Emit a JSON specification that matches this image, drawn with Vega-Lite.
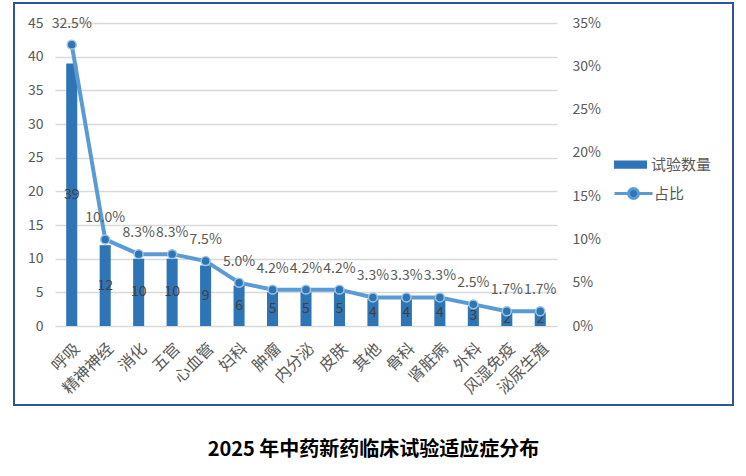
{
  "$schema": "https://vega.github.io/schema/vega-lite/v6.json",
  "width": 719,
  "height": 402,
  "autosize": "none",
  "padding": {"left": 14, "top": 3, "right": 13, "bottom": 71},
  "background": "white",
  "config": {
    "font": "Noto Sans CJK SC",
    "view": {"stroke": "#2F5597", "strokeWidth": 2}
  },
  "title": {
    "text": "2025 年中药新药临床试验适应症分布",
    "orient": "bottom",
    "anchor": "middle",
    "frame": "group",
    "offset": 35,
    "fontSize": 20,
    "fontWeight": "bold",
    "color": "#000000"
  },
  "data": {
    "values": [
      {"类别": "呼吸", "试验数量": 39, "占比": 0.325},
      {"类别": "精神神经", "试验数量": 12, "占比": 0.100},
      {"类别": "消化", "试验数量": 10, "占比": 0.083},
      {"类别": "五官", "试验数量": 10, "占比": 0.083},
      {"类别": "心血管", "试验数量": 9, "占比": 0.075},
      {"类别": "妇科", "试验数量": 6, "占比": 0.050},
      {"类别": "肿瘤", "试验数量": 5, "占比": 0.042},
      {"类别": "内分泌", "试验数量": 5, "占比": 0.042},
      {"类别": "皮肤", "试验数量": 5, "占比": 0.042},
      {"类别": "其他", "试验数量": 4, "占比": 0.033},
      {"类别": "骨科", "试验数量": 4, "占比": 0.033},
      {"类别": "肾脏病", "试验数量": 4, "占比": 0.033},
      {"类别": "外科", "试验数量": 3, "占比": 0.025},
      {"类别": "风湿免疫", "试验数量": 2, "占比": 0.017},
      {"类别": "泌尿生殖", "试验数量": 2, "占比": 0.017}
    ]
  },
  "encoding": {
    "x": {
      "field": "类别",
      "type": "nominal",
      "sort": null,
      "scale": {"range": [41, 543], "paddingInner": 0, "paddingOuter": 0},
      "axis": {
        "title": null,
        "labelAngle": -45,
        "labelFontSize": 16,
        "labelColor": "#595959",
        "ticks": false,
        "domain": false,
        "grid": false,
        "offset": -79,
        "labelPadding": 14
      }
    }
  },
  "layer": [
    {
      "mark": {"type": "bar", "width": {"band": 0.33}},
      "encoding": {
        "y": {
          "field": "试验数量",
          "type": "quantitative",
          "scale": {"domain": [0, 45], "range": [323, 20], "nice": false},
          "axis": {
            "title": null,
            "orient": "left",
            "offset": -41,
            "values": [0, 5, 10, 15, 20, 25, 30, 35, 40, 45],
            "grid": true,
            "gridColor": "#D9D9D9",
            "gridWidth": 1.3,
            "domain": false,
            "ticks": false,
            "labelPadding": 12,
            "labelFontSize": 14,
            "labelColor": "#595959"
          }
        },
        "color": {
          "datum": "试验数量",
          "scale": {"range": ["#2E75B6"]},
          "legend": {
            "title": null,
            "orient": "none",
            "legendX": 599,
            "legendY": 144,
            "padding": 0,
            "symbolType": "M-1,-0.25L1,-0.25L1,0.25L-1,0.25Z",
            "symbolSize": 1089,
            "symbolOpacity": 1,
            "labelFontSize": 15,
            "labelColor": "#595959",
            "labelOffset": 3
          }
        }
      }
    },
    {
      "mark": {"type": "text", "fontSize": 14, "color": "#404040", "baseline": "middle"},
      "encoding": {
        "y": {
          "field": "试验数量",
          "type": "quantitative",
          "scale": {"domain": [0, 90], "range": [323, 20], "nice": false},
          "axis": null
        },
        "text": {"field": "试验数量", "type": "quantitative"}
      }
    },
    {
      "mark": {"type": "line", "strokeWidth": 4},
      "encoding": {
        "y": {
          "field": "占比",
          "type": "quantitative",
          "scale": {"domain": [0, 0.35], "range": [323, 20], "nice": false},
          "axis": {
            "title": null,
            "orient": "right",
            "offset": -176,
            "format": ".0%",
            "values": [0, 0.05, 0.1, 0.15, 0.2, 0.25, 0.3, 0.35],
            "grid": false,
            "domain": false,
            "ticks": false,
            "labelPadding": 15,
            "labelFontSize": 14,
            "labelColor": "#595959"
          }
        },
        "stroke": {
          "datum": "占比",
          "scale": {"range": ["#5B9BD5"]},
          "legend": {
            "title": null,
            "orient": "none",
            "legendX": 599,
            "legendY": 170,
            "padding": 0,
            "symbolType": "M-1,0L-0.26,0M0.26,0L1,0M0.26,0A0.26,0.26,0,1,1,-0.26,0A0.26,0.26,0,1,1,0.26,0Z",
            "symbolSize": 1444,
            "symbolStrokeWidth": 3,
            "symbolFillColor": "#2E75B6",
            "labelFontSize": 15,
            "labelColor": "#595959",
            "labelOffset": 0,
            "encode": {"symbols": {"update": {"fill": {"value": "#2E75B6"}, "strokeWidth": {"value": 3}}}}
          }
        }
      }
    },
    {
      "mark": {"type": "point", "filled": true, "size": 80, "fill": "#2E75B6", "stroke": "#9DC3E6", "strokeWidth": 1.5, "opacity": 1},
      "encoding": {
        "y": {
          "field": "占比",
          "type": "quantitative",
          "scale": {"domain": [0, 0.35], "range": [323, 20], "nice": false},
          "axis": null
        }
      }
    },
    {
      "mark": {"type": "text", "fontSize": 14, "color": "#595959", "baseline": "middle", "dy": -21},
      "encoding": {
        "y": {
          "field": "占比",
          "type": "quantitative",
          "scale": {"domain": [0, 0.35], "range": [323, 20], "nice": false},
          "axis": null
        },
        "text": {"field": "占比", "type": "quantitative", "format": ".1%"}
      }
    }
  ],
  "resolve": {"scale": {"y": "independent"}}
}
